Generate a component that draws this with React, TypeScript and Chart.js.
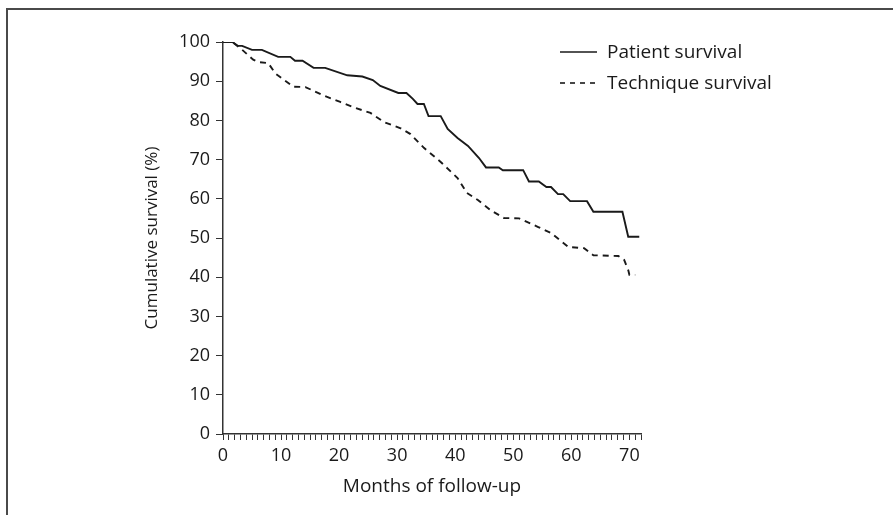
import React, { useEffect, useRef } from "react";
import { Chart, registerables } from "chart.js";

Chart.register(...registerables);

const seriesLabels = ["Patient survival", "Technique survival"];

const patientMonths = [0, 1.6, 2.6, 3.3, 5.0, 6.7, 9.5, 11.6, 12.4, 13.7, 15.6, 17.6, 21.4, 24.0, 25.8, 27.1, 30.2, 31.6, 32.7, 33.5, 34.6, 35.4, 37.5, 38.7, 40.4, 42.2, 44.1, 45.3, 47.5, 48.2, 51.7, 52.7, 54.4, 55.7, 56.5, 57.7, 58.6, 59.8, 62.7, 63.8, 68.8, 69.8, 71.7];
const patientSurvival = [100, 100, 99, 99, 98, 98, 96.2, 96.2, 95.2, 95.2, 93.4, 93.4, 91.5, 91.2, 90.3, 88.8, 87, 87, 85.5, 84.2, 84.2, 81.1, 81.1, 77.8, 75.5, 73.5, 70.4, 68, 68, 67.3, 67.3, 64.4, 64.4, 63, 63, 61.2, 61.2, 59.4, 59.4, 56.7, 56.7, 50.3, 50.3];

const techniqueMonths = [0, 1.6, 3.3, 5.2, 6.1, 7.8, 9.0, 12.1, 14.2, 17.1, 20.2, 22.8, 25.4, 27.7, 30.6, 32.3, 34.6, 37.5, 40.4, 42.0, 43.9, 46.1, 48.4, 51.0, 54.3, 56.5, 59.5, 62.2, 63.8, 68.1, 69.1, 69.8, 70.0, 71.0];
const techniqueSurvival = [100, 100, 98, 95.5, 94.9, 94.6, 92, 88.6, 88.5, 86.5, 84.7, 83.2, 81.9, 79.6, 78, 76.5, 73, 69.4, 65.3, 61.5, 59.7, 57.1, 55.1, 55.0, 52.8, 51.3, 47.7, 47.4, 45.6, 45.4, 44.4, 41.8, 40.6, 40.6];

const xTitle = "Months of follow-up";
const yTitle = "Cumulative survival (%)";
const xMin = 0;
const xMax = 72;
const xLabelEvery = 10;
const yMin = 0;
const yMax = 100;
const yStep = 10;

const FONT = "'Open Sans', sans-serif";
const INK = "#1a1a1a";

const toPoints = (xs: number[], ys: number[]) => xs.map((x, i) => ({ x, y: ys[i] }));

const framePlugin = {
  id: "frame",
  afterDraw(chart: any) {
    const ctx = chart.ctx;
    ctx.save();
    ctx.strokeStyle = "#4a4a4a";
    ctx.lineWidth = 2;
    ctx.beginPath();
    ctx.moveTo(7, 515);
    ctx.lineTo(7, 9);
    ctx.lineTo(893, 9);
    ctx.stroke();
    ctx.restore();
  },
};

const legendPlugin = {
  id: "customLegend",
  afterDraw(chart: any) {
    const ctx = chart.ctx;
    ctx.save();
    ctx.font = `19px ${FONT}`;
    ctx.textBaseline = "middle";
    ctx.fillStyle = INK;
    const rows = [52, 83];
    chart.data.datasets.forEach((ds: any, i: number) => {
      const y = rows[i];
      ctx.strokeStyle = INK;
      ctx.lineWidth = 1.6;
      ctx.setLineDash(ds.borderDash ? [5, 5] : []);
      ctx.beginPath();
      ctx.moveTo(560, y);
      ctx.lineTo(597, y);
      ctx.stroke();
      ctx.setLineDash([]);
      ctx.fillText(ds.label, 607, y + 1);
    });
    ctx.restore();
  },
};

export default function App() {
  const canvasRef = useRef<HTMLCanvasElement | null>(null);

  useEffect(() => {
    const canvas = canvasRef.current;
    if (!canvas) return;
    const chart = new Chart(canvas, {
      type: "line",
      data: {
        datasets: [
          {
            label: seriesLabels[0],
            data: toPoints(patientMonths, patientSurvival),
            borderColor: INK,
            borderWidth: 1.9,
            pointRadius: 0,
            tension: 0,
            fill: false,
          },
          {
            label: seriesLabels[1],
            data: toPoints(techniqueMonths, techniqueSurvival),
            borderColor: INK,
            borderWidth: 1.9,
            borderDash: [6, 5],
            pointRadius: 0,
            tension: 0,
            fill: false,
          },
        ],
      },
      options: {
        responsive: false,
        animation: false,
        events: [],
        layout: { padding: { left: 142, right: 252, top: 42, bottom: 17 } },
        plugins: {
          legend: { display: false },
          tooltip: { enabled: false },
        },
        scales: {
          x: {
            type: "linear",
            min: xMin,
            max: xMax,
            afterFit: (scale: any) => {
              scale.height = 64;
            },
            border: { display: true, color: "#333", width: 1.5 },
            grid: { display: true, drawOnChartArea: false, drawTicks: true, tickLength: 6, color: "#333", lineWidth: 1 },
            ticks: {
              stepSize: 1,
              autoSkip: false,
              maxRotation: 0,
              minRotation: 0,
              padding: 5,
              color: INK,
              font: { family: FONT, size: 18 },
              callback: (v: any) => (Number(v) % xLabelEvery === 0 ? String(v) : ""),
            },
            title: {
              display: true,
              text: xTitle,
              color: INK,
              padding: 0,
              font: { family: FONT, size: 19 },
            },
          },
          y: {
            type: "linear",
            min: yMin,
            max: yMax,
            afterFit: (scale: any) => {
              scale.width = 81;
            },
            border: { display: true, color: "#333", width: 1.5 },
            grid: { display: true, drawOnChartArea: false, drawTicks: true, tickLength: 7, color: "#333", lineWidth: 1 },
            ticks: {
              stepSize: yStep,
              padding: 6,
              color: INK,
              font: { family: FONT, size: 18 },
            },
            title: {
              display: true,
              text: yTitle,
              color: INK,
              padding: 0,
              font: { family: FONT, size: 17 },
            },
          },
        },
      },
      plugins: [framePlugin, legendPlugin],
    } as any);
    return () => chart.destroy();
  }, []);

  return (
    <div style={{ position: "fixed", left: 0, top: 0, width: 893, height: 515, background: "#fff" }}>
      <canvas ref={canvasRef} width={893} height={515} style={{ display: "block" }} />
    </div>
  );
}
